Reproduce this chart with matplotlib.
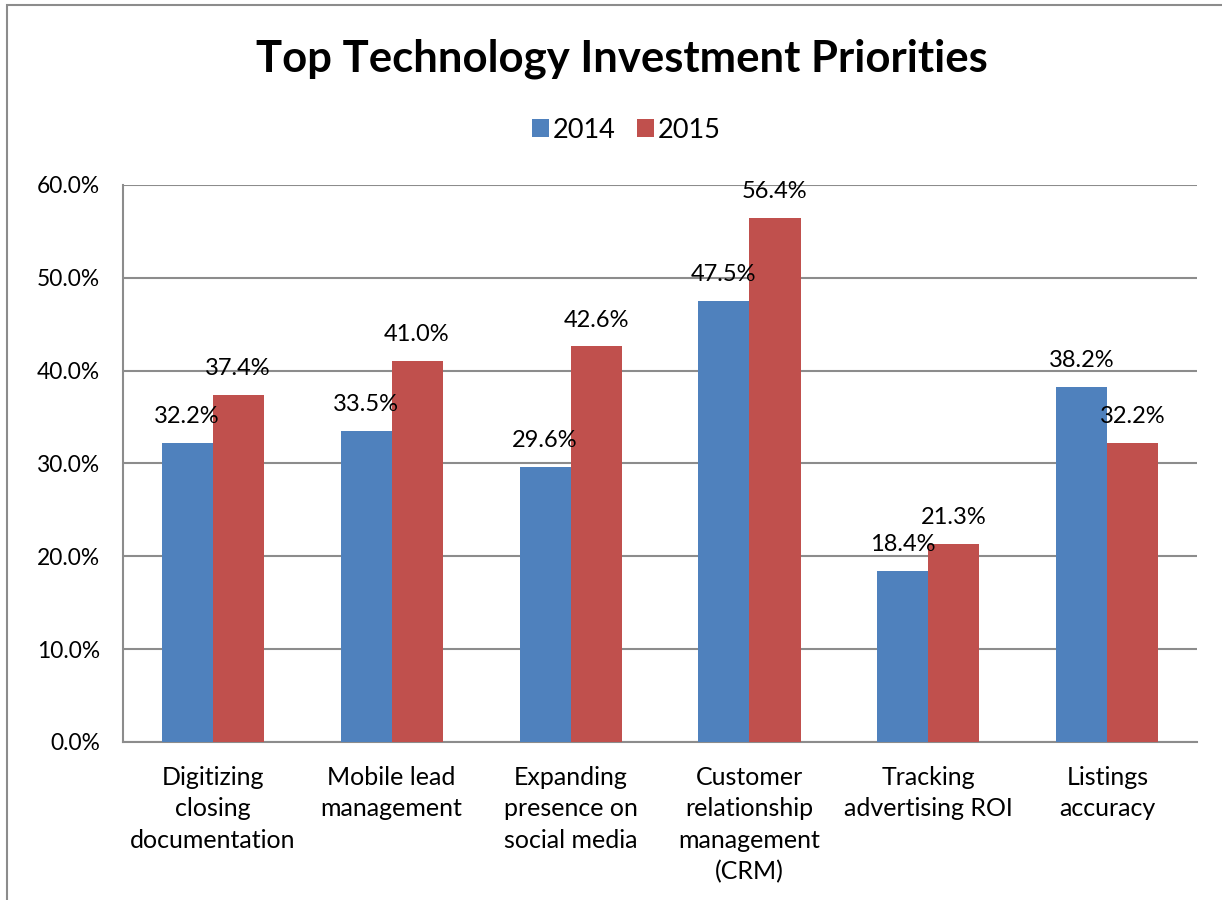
import matplotlib
matplotlib.use("Agg")
import matplotlib.pyplot as plt
import numpy as np
from matplotlib.patches import Rectangle
from matplotlib.ticker import FuncFormatter

plt.rcParams["font.family"] = ["Lato", "DejaVu Sans"]

categories = [
    "Digitizing\nclosing\ndocumentation",
    "Mobile lead\nmanagement",
    "Expanding\npresence on\nsocial media",
    "Customer\nrelationship\nmanagement\n(CRM)",
    "Tracking\nadvertising ROI",
    "Listings\naccuracy",
]
series_names = ["2014", "2015"]
values_2014 = [32.2, 33.5, 29.6, 47.5, 18.4, 38.2]
values_2015 = [37.4, 41.0, 42.6, 56.4, 21.3, 32.2]
colors = ["#4F81BD", "#C0504D"]
grid_gray = "#8C8C8C"

fig = plt.figure(figsize=(12.22, 9), dpi=100)
ax = fig.add_axes([0.1007, 0.1756, 0.8788, 0.6189])

x = np.arange(len(categories))
w = 0.285
for i, (vals, name, col) in enumerate(zip([values_2014, values_2015], series_names, colors)):
    pos = x + (i - 0.5) * w
    ax.bar(pos, vals, width=w, color=col, label=name, zorder=3)
    for px, v in zip(pos, vals):
        ax.annotate(f"{v:.1f}%", (px, v), xytext=(0, 19), textcoords="offset points",
                    ha="center", va="center", fontsize=17, zorder=4)

ax.set_xlim(-0.5, len(categories) - 0.5)
ax.set_ylim(0, 60)
ax.set_yticks(np.arange(0, 61, 10))
ax.yaxis.set_major_formatter(FuncFormatter(lambda v, _: f"{v:.1f}%"))
ax.set_xticks(x)
ax.set_xticklabels(categories, fontsize=18, linespacing=1.45)
ax.tick_params(axis="y", length=0, pad=16.5, labelsize=16.4)
ax.tick_params(axis="x", length=0, pad=17)
ax.grid(axis="y", color=grid_gray, lw=1.5, zorder=0)
for s in ["top", "right"]:
    ax.spines[s].set_visible(False)
for s in ["left", "bottom"]:
    ax.spines[s].set_color(grid_gray)
    ax.spines[s].set_linewidth(1.5)

fig.text(0.5086, 0.935, "Top Technology Investment Priorities", ha="center", va="center",
         fontsize=31.4, fontweight="bold")
fig.legend(loc="center", bbox_to_anchor=(0.5127, 0.8555), ncol=2, frameon=False,
           fontsize=19.5, handlelength=0.6, handleheight=0.6, handletextpad=0.15,
           columnspacing=0.8)

fig.add_artist(Rectangle((0.006, -0.05), 1.2, 0.9944 + 0.05, transform=fig.transFigure,
                         fill=False, edgecolor="#8C8C8C", lw=1.5))

fig.savefig("out.png", dpi=100)
